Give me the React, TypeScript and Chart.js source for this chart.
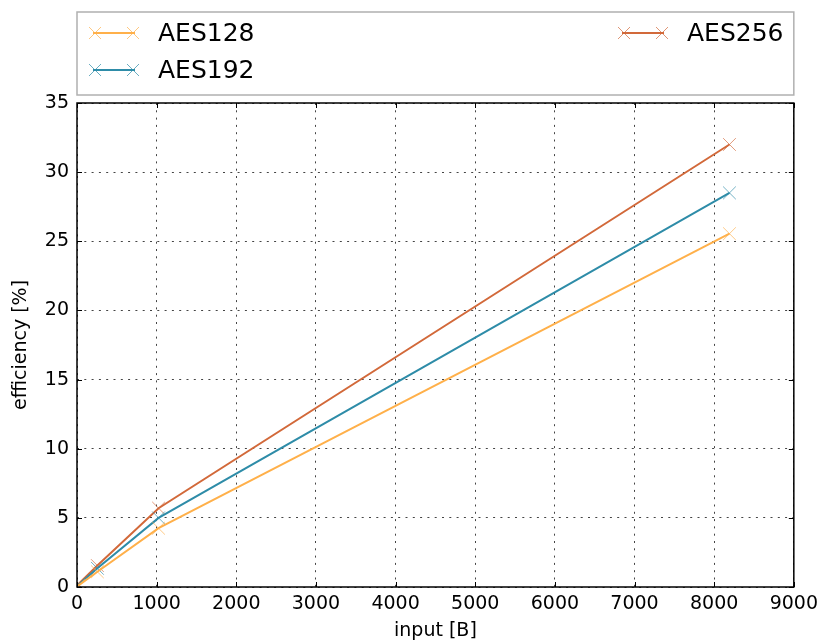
import React, { useEffect, useRef } from "react";
import { Chart, registerables } from "chart.js";

Chart.register(...registerables);

const inputSizes = [16, 256, 1024, 8192];
const aes128 = [0.1, 1.1, 4.25, 25.55];
const aes192 = [0.15, 1.35, 5.0, 28.5];
const aes256 = [0.2, 1.55, 5.7, 32.0];
const seriesLabels = ["AES128", "AES192", "AES256"];
const seriesColors = ["#ffb04a", "#2e8ca8", "#d2693a"];
const xTicks = [0, 1000, 2000, 3000, 4000, 5000, 6000, 7000, 8000, 9000];
const yTicks = [0, 5, 10, 15, 20, 25, 30, 35];

const FONT = "'DejaVu Sans', sans-serif";

function drawCross(ctx: CanvasRenderingContext2D, x: number, y: number, r: number) {
  ctx.beginPath();
  ctx.moveTo(x - r, y - r);
  ctx.lineTo(x + r, y + r);
  ctx.moveTo(x - r, y + r);
  ctx.lineTo(x + r, y - r);
  ctx.stroke();
}

const framePlugin = {
  id: "mplFrame",
  afterDraw(chart: any) {
    const { ctx, chartArea, scales } = chart;
    const { left, right, top, bottom } = chartArea;
    ctx.save();
    ctx.strokeStyle = "#000";
    ctx.lineWidth = 1;
    const tl = 5;
    ctx.beginPath();
    xTicks.forEach((v) => {
      const px = Math.round(scales.x.getPixelForValue(v)) + 0.5;
      ctx.moveTo(px, bottom);
      ctx.lineTo(px, bottom - tl);
      ctx.moveTo(px, top);
      ctx.lineTo(px, top + tl);
    });
    yTicks.forEach((v) => {
      const py = Math.round(scales.y.getPixelForValue(v)) + 0.5;
      ctx.moveTo(left, py);
      ctx.lineTo(left + tl, py);
      ctx.moveTo(right, py);
      ctx.lineTo(right - tl, py);
    });
    ctx.stroke();
    ctx.lineWidth = 1.5;
    ctx.strokeRect(left, top, right - left, bottom - top);

    // legend
    const boxTop = 12;
    const boxBottom = 95;
    ctx.strokeStyle = "#b0b0b0";
    ctx.lineWidth = 1.5;
    ctx.strokeRect(left, boxTop, right - left, boxBottom - boxTop);
    const slots = [
      { x: left + 16, y: 33 },
      { x: left + 16, y: 70 },
      { x: left + 545, y: 33 },
    ];
    ctx.font = `25px ${FONT}`;
    ctx.textBaseline = "middle";
    ctx.textAlign = "left";
    chart.data.datasets.forEach((ds: any, i: number) => {
      const s = slots[i];
      ctx.strokeStyle = ds.borderColor;
      ctx.lineWidth = 2;
      ctx.beginPath();
      ctx.moveTo(s.x, s.y);
      ctx.lineTo(s.x + 42, s.y);
      ctx.stroke();
      ctx.lineWidth = 1;
      ctx.globalAlpha = 0.7;
      drawCross(ctx, s.x + 2, s.y, 6);
      drawCross(ctx, s.x + 40, s.y, 6);
      ctx.globalAlpha = 1;
      ctx.fillStyle = "#000";
      ctx.fillText(ds.label, s.x + 65, s.y + 1);
    });
    ctx.restore();
  },
};

export default function App() {
  const ref = useRef<HTMLCanvasElement | null>(null);
  useEffect(() => {
    if (!ref.current) return;
    const seriesValues = [aes128, aes192, aes256];
    const chart = new Chart(ref.current, {
      type: "line",
      data: {
        datasets: seriesLabels.map((label, i) => ({
          label,
          data: inputSizes.map((x, j) => ({ x, y: seriesValues[i][j] })),
          borderColor: seriesColors[i],
          backgroundColor: seriesColors[i],
          pointBorderColor: seriesColors[i] + "aa",
          borderWidth: 2,
          pointStyle: "crossRot",
          pointRadius: 9,
          pointBorderWidth: 1,
          tension: 0,
          fill: false,
        })),
      },
      options: {
        responsive: false,
        animation: false,
        maintainAspectRatio: false,
        layout: { padding: { top: 103, right: 26, left: 0, bottom: 0 } },
        plugins: {
          legend: { display: false },
          tooltip: { enabled: false },
        },
        scales: {
          x: {
            type: "linear",
            min: 0,
            max: 9000,
            afterFit: (s: any) => {
              s.height = 55;
            },
            ticks: {
              stepSize: 1000,
              color: "#000",
              font: { family: FONT, size: 19 },
              padding: 6,
              maxRotation: 0,
              callback: (v: any) => String(v),
            },
            grid: {
              color: "#444",
              lineWidth: 1,
              drawTicks: false,
            },
            border: { display: false, dash: [2, 5.3] },
            title: {
              display: true,
              text: "input [B]",
              color: "#000",
              font: { family: FONT, size: 19 },
              padding: { top: 0, bottom: 0 },
            },
          },
          y: {
            type: "linear",
            min: 0,
            max: 35,
            afterFit: (s: any) => {
              s.width = 77;
            },
            ticks: {
              stepSize: 5,
              color: "#000",
              font: { family: FONT, size: 19 },
              padding: 8,
              callback: (v: any) => String(v),
            },
            grid: {
              color: "#444",
              lineWidth: 1,
              drawTicks: false,
            },
            border: { display: false, dash: [2, 5.3] },
            title: {
              display: true,
              text: "efficiency [%]",
              color: "#000",
              font: { family: FONT, size: 19 },
              padding: { top: 10, bottom: 0 },
            },
          },
        },
      },
      plugins: [framePlugin],
    } as any);
    return () => chart.destroy();
  }, []);
  return (
    <div style={{ position: "fixed", left: 0, top: 0, width: 824, height: 642, background: "#fff" }}>
      <canvas ref={ref} width={824} height={642} style={{ width: 824, height: 642, display: "block" }} />
    </div>
  );
}
